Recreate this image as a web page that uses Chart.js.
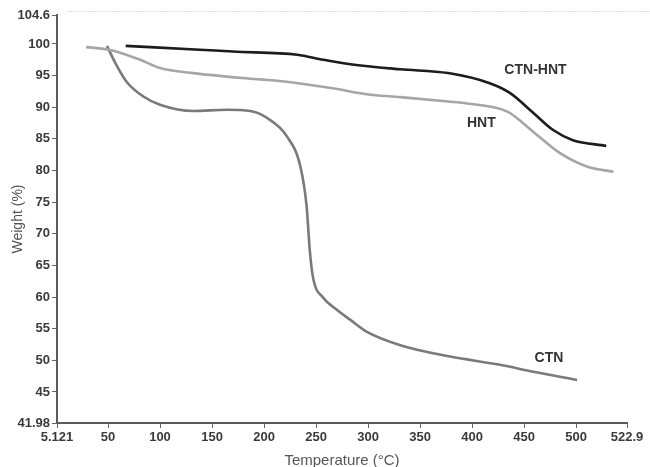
<!DOCTYPE html>
<html>
<head>
<meta charset="utf-8">
<script src="https://cdn.jsdelivr.net/npm/chart.js@4/dist/chart.umd.min.js"></script>
<style>
  html, body { margin: 0; padding: 0; background: #fff; }
  #wrap { width: 650px; height: 467px; }
</style>
</head>
<body>
<div id="wrap"><canvas id="myChart"></canvas></div>
<script>
// values
const ctnHntTemp = [67, 138, 170, 232, 257, 283, 331, 377, 417, 436, 459, 478, 497, 529];
const ctnHntWeight = [99.7, 99.1, 98.8, 98.3, 97.5, 96.8, 96.0, 95.4, 93.8, 92.3, 89.1, 86.4, 84.8, 83.9];

const hntTemp = [29, 52, 81, 100, 132, 196, 215, 266, 299, 331, 377, 395, 434, 459, 485, 511, 536];
const hntWeight = [99.5, 99.05, 97.5, 96.2, 95.4, 94.4, 94.15, 93.0, 92.05, 91.6, 90.9, 90.6, 89.3, 86.1, 82.7, 80.6, 79.8];

const ctnTemp = [49, 58, 68, 84, 100, 132, 164, 187, 203, 222, 235, 241, 244, 247, 257, 270, 283, 299, 331, 379, 427, 459, 501];
const ctnWeight = [99.7, 96.7, 94.0, 91.7, 90.4, 89.4, 89.6, 89.4, 88.3, 85.4, 80.6, 74.3, 67.4, 63.2, 59.9, 58.0, 56.4, 54.5, 52.4, 50.6, 49.3, 48.2, 46.9];

const seriesNames = ["CTN-HNT", "HNT", "CTN"];
// where each series name sits, in data units
const nameTemp = [461, 409, 474];
const nameWeight = [95.9, 87.5, 50.4];

const xTickValues = [0.96, 50, 100, 150, 200, 250, 300, 350, 400, 450, 500, 549];
const xTickLabels = ["5.121", "50", "100", "150", "200", "250", "300", "350", "400", "450", "500", "522.9"];
const yTickValues = [40.1, 45, 50, 55, 60, 65, 70, 75, 80, 85, 90, 95, 100, 104.58];
const yTickLabels = ["41.98", "45", "50", "55", "60", "65", "70", "75", "80", "85", "90", "95", "100", "104.6"];

const toPoints = (xs, ys) => xs.map((x, i) => ({ x: x, y: ys[i] }));

const seriesNamePlugin = {
  id: "seriesNames",
  afterDatasetsDraw(chart) {
    const ctx = chart.ctx;
    const xs = chart.scales.x;
    const ys = chart.scales.y;
    ctx.save();
    ctx.font = "bold 14px 'Liberation Sans', Arial, sans-serif";
    ctx.fillStyle = "#333";
    ctx.textAlign = "center";
    ctx.textBaseline = "middle";
    seriesNames.forEach((name, i) => {
      ctx.fillText(name, xs.getPixelForValue(nameTemp[i]), ys.getPixelForValue(nameWeight[i]));
    });
    // faint dotted rule above the plot
    const area = chart.chartArea;
    ctx.strokeStyle = "#dddddd";
    ctx.lineWidth = 1;
    ctx.setLineDash([2, 1]);
    ctx.beginPath();
    ctx.moveTo(area.left + 10, area.top - 3.5);
    ctx.lineTo(chart.width, area.top - 3.5);
    ctx.stroke();
    ctx.restore();
  }
};

const tickFont = { family: "'Liberation Sans', Arial, sans-serif", size: 13, weight: "bold" };

new Chart(document.getElementById("myChart"), {
  type: "line",
  data: {
    datasets: [
      { label: "CTN-HNT", data: toPoints(ctnHntTemp, ctnHntWeight), borderColor: "#1c1c1c" },
      { label: "HNT", data: toPoints(hntTemp, hntWeight), borderColor: "#a6a6a6" },
      { label: "CTN", data: toPoints(ctnTemp, ctnWeight), borderColor: "#7a7a7a" }
    ]
  },
  options: {
    responsive: true,
    maintainAspectRatio: false,
    animation: false,
    parsing: false,
    layout: { padding: { top: 15, right: 23, left: 0, bottom: 0 } },
    elements: {
      line: { borderWidth: 2.6, cubicInterpolationMode: "monotone", fill: false },
      point: { radius: 0 }
    },
    plugins: {
      legend: { display: false },
      tooltip: { enabled: false }
    },
    scales: {
      x: {
        type: "linear",
        min: xTickValues[0],
        max: xTickValues[xTickValues.length - 1],
        afterBuildTicks: (scale) => { scale.ticks = xTickValues.map((v) => ({ value: v })); },
        afterFit: (scale) => { scale.height = 44; },
        ticks: {
          autoSkip: false,
          maxRotation: 0,
          padding: 2,
          color: "#3a3a3a",
          font: tickFont,
          callback: (v, i) => xTickLabels[i]
        },
        grid: { drawOnChartArea: false, drawTicks: true, tickLength: 5, color: "#666", lineWidth: 1 },
        border: { display: true, color: "#5a5a5a", width: 2 },
        title: {
          display: true,
          text: "Temperature (°C)",
          color: "#555",
          padding: { top: 0, bottom: -3 },
          font: { family: "'Liberation Sans', Arial, sans-serif", size: 15 }
        }
      },
      y: {
        type: "linear",
        min: yTickValues[0],
        max: yTickValues[yTickValues.length - 1],
        afterBuildTicks: (scale) => { scale.ticks = yTickValues.map((v) => ({ value: v })); },
        afterFit: (scale) => { scale.width = 57; },
        ticks: {
          autoSkip: false,
          padding: 2,
          color: "#3a3a3a",
          font: tickFont,
          callback: (v, i) => yTickLabels[i]
        },
        grid: { drawOnChartArea: false, drawTicks: true, tickLength: 5, color: "#666", lineWidth: 1 },
        border: { display: true, color: "#5a5a5a", width: 2 },
        title: {
          display: true,
          text: "Weight (%)",
          color: "#555",
          padding: { top: 10, bottom: 0 },
          font: { family: "'Liberation Sans', Arial, sans-serif", size: 14 }
        }
      }
    }
  },
  plugins: [seriesNamePlugin]
});
</script>
</body>
</html>
